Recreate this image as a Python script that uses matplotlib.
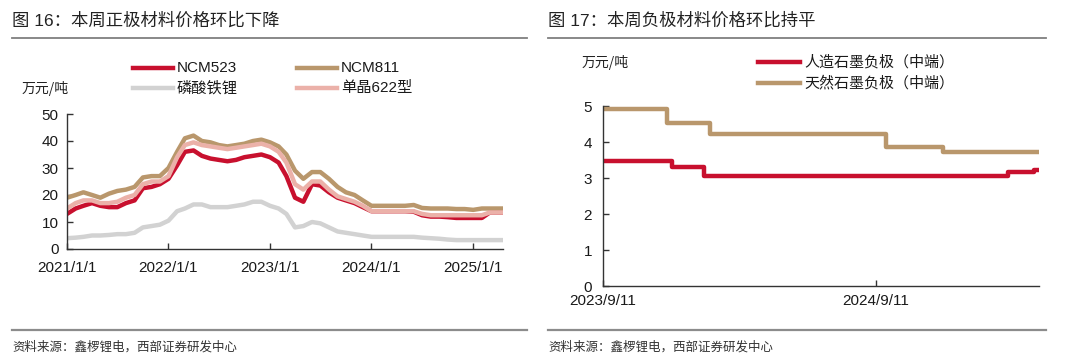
import numpy as np
import pandas as pd
import matplotlib
matplotlib.use('Agg')
from matplotlib import pyplot as plt
from matplotlib.lines import Line2D

plt.rcParams['font.family'] = ['Liberation Sans', 'Noto Sans CJK SC', 'DejaVu Sans']
plt.rcParams['axes.unicode_minus'] = False

# 正极材料价格 (万元/吨), 月度
cathode_dates = list(pd.date_range('2021-01-01', periods=52, freq='MS')) + [pd.Timestamp('2025-04-18')]
ncm523 = [13, 15, 16, 17, 16, 15.5, 15.5, 17, 18, 22.5, 23, 24,
          26, 31, 36, 36.5, 34.5, 33.5, 33, 32.5, 33, 34, 34.5, 35,
          34, 32, 27, 19, 17.5, 24, 23.5, 21, 19, 18, 17, 15.5,
          14, 14, 14, 14, 14, 13.8, 12.5, 12, 12, 11.8, 11.5, 11.5,
          11.5, 11.5, 13.5, 13.5, 13.5]
ncm811 = [19, 20, 21, 20, 19, 20.5, 21.5, 22, 23, 26.5, 27, 27,
          30, 36, 41, 42, 40, 39.5, 38.5, 38, 38.5, 39, 40, 40.5,
          39.5, 38, 35, 29, 26, 28.5, 28.5, 26, 23, 21, 20, 18,
          16, 16, 16, 16, 16, 16.3, 15.2, 15, 15, 15, 14.8, 14.8,
          14.5, 15, 15, 15, 15]
lfp = [4, 4.2, 4.5, 5, 5, 5.2, 5.5, 5.5, 6, 8, 8.5, 9,
       10.5, 14, 15, 16.5, 16.5, 15.5, 15.5, 15.5, 16, 16.5, 17.5, 17.5,
       16, 15, 13, 8, 8.5, 10, 9.5, 8, 6.5, 6, 5.5, 5,
       4.5, 4.5, 4.5, 4.5, 4.5, 4.5, 4.2, 4, 3.8, 3.5, 3.3, 3.3,
       3.3, 3.3, 3.3, 3.3, 3.3]
sc622 = [15, 17, 18, 18, 17, 17, 17.5, 19, 20, 24, 25, 25,
         27, 34, 38.5, 39.5, 38.5, 38, 37.5, 37, 37.5, 38, 38.5, 39,
         38, 36, 32, 24, 22, 25, 25, 22, 19.5, 18.5, 17.5, 16,
         14, 14, 14, 14, 14, 14, 13, 12.5, 12.5, 12.5, 12.5, 12.5,
         12.5, 12.5, 13.5, 13.5, 13.5]
cathode_ticks = ['2021-01-01', '2022-01-01', '2023-01-01', '2024-01-01', '2025-01-01']
cathode_ticklabels = ['2021/1/1', '2022/1/1', '2023/1/1', '2024/1/1', '2025/1/1']

# 负极材料价格 (万元/吨), 调价日期
art_dates = ['2023-09-11', '2023-12-12', '2024-01-24', '2025-03-07', '2025-04-11', '2025-04-18']
art_vals = [3.47, 3.30, 3.05, 3.16, 3.22, 3.22]
nat_dates = ['2023-09-11', '2023-12-06', '2024-02-01', '2024-09-25', '2024-12-10', '2025-04-18']
nat_vals = [4.92, 4.53, 4.23, 3.87, 3.71, 3.71]
anode_ticks = ['2023-09-11', '2024-09-11']
anode_ticklabels = ['2023/9/11', '2024/9/11']

RED = '#C8102E'
TAN = '#B9976C'
GRAY = '#D2D2D2'
PINK = '#EBB1A9'
AXC = '#333333'

fig = plt.figure(figsize=(10.8, 3.61), dpi=100)


def fx(px):
    return px / 1080


def fy(py):
    return 1 - py / 361


def style_axes(ax):
    for s in ['top', 'right']:
        ax.spines[s].set_visible(False)
    for s in ['left', 'bottom']:
        ax.spines[s].set_color(AXC)
        ax.spines[s].set_linewidth(1.0)
    ax.tick_params(direction='in', length=4, width=1.0, color=AXC,
                   labelsize=11, labelcolor='#1a1a1a')


# ---- 图16 正极 ----
ax1 = fig.add_axes([fx(67), fy(249), fx(436), (249 - 114) / 361])
d1 = pd.to_datetime(cathode_dates)
ax1.plot(d1, ncm523, color=RED, lw=3.2, solid_joinstyle='round')
ax1.plot(d1, ncm811, color=TAN, lw=3.2, solid_joinstyle='round')
ax1.plot(d1, lfp, color=GRAY, lw=3.2, solid_joinstyle='round')
ax1.plot(d1, sc622, color=PINK, lw=3.2, solid_joinstyle='round')
ax1.set_ylim(0, 50)
ax1.set_yticks(np.arange(0, 51, 10))
ax1.set_xlim(pd.Timestamp('2021-01-01'), pd.Timestamp('2025-04-18'))
ax1.set_xticks(pd.to_datetime(cathode_ticks))
ax1.set_xticklabels(cathode_ticklabels)
style_axes(ax1)
ax1.tick_params(axis='x', pad=9)
ax1.tick_params(axis='y', pad=6)

# ---- 图17 负极 ----
ax2 = fig.add_axes([fx(603), fy(286), fx(436), (286 - 106) / 361])
ax2.plot(pd.to_datetime(art_dates), art_vals, color=RED, lw=3.2, drawstyle='steps-post')
ax2.plot(pd.to_datetime(nat_dates), nat_vals, color=TAN, lw=3.2, drawstyle='steps-post')
ax2.set_ylim(0, 5)
ax2.set_yticks(np.arange(0, 6, 1))
ax2.set_xlim(pd.Timestamp('2023-09-11'), pd.Timestamp('2025-04-18'))
ax2.set_xticks(pd.to_datetime(anode_ticks))
ax2.set_xticklabels(anode_ticklabels)
style_axes(ax2)
ax2.tick_params(axis='x', pad=6)
ax2.tick_params(axis='y', pad=8)

# ---- 标题、分隔线、来源 ----
cjk = ['Noto Sans CJK SC', 'DejaVu Sans']
fig.text(fx(12), fy(20), '图 16：本周正极材料价格环比下降', fontsize=12.5, color='#222222',
         va='center', ha='left', family=['Liberation Sans', 'Noto Sans CJK SC'])
fig.text(fx(548), fy(20), '图 17：本周负极材料价格环比持平', fontsize=12.5, color='#222222',
         va='center', ha='left', family=['Liberation Sans', 'Noto Sans CJK SC'])
for x0, x1 in [(12, 527), (548, 1046)]:
    fig.add_artist(Line2D([fx(x0), fx(x1)], [fy(38), fy(38)], color='#7f7f7f', lw=1.3))
    fig.add_artist(Line2D([fx(x0), fx(x1)], [fy(330), fy(330)], color='#8c8c8c', lw=1.6))
fig.text(fx(12), fy(347), '资料来源：鑫椤锂电，西部证券研发中心', fontsize=9, color='#333333',
         va='center', ha='left', family=cjk)
fig.text(fx(548), fy(347), '资料来源：鑫椤锂电，西部证券研发中心', fontsize=9, color='#333333',
         va='center', ha='left', family=cjk)

# 单位
fig.text(fx(22), fy(88), '万元/吨', fontsize=10, color='#222222', va='center', ha='left', family=cjk)
fig.text(fx(582), fy(62), '万元/吨', fontsize=10, color='#222222', va='center', ha='left', family=cjk)

# 图例
legend_left = [
    (133, 68, RED, 'NCM523'),
    (297, 68, TAN, 'NCM811'),
    (133, 88, GRAY, '磷酸铁锂'),
    (297, 88, PINK, '单晶622型'),
]
for x, y, c, lab in legend_left:
    fig.add_artist(Line2D([fx(x), fx(x + 40)], [fy(y), fy(y)], color=c, lw=3.2))
    fig.text(fx(x + 44), fy(y), lab, fontsize=11, color='#1a1a1a', va='center', ha='left',
             family=['Liberation Sans', 'Noto Sans CJK SC'])

legend_right = [
    (758, 62, RED, '人造石墨负极（中端）'),
    (758, 83, TAN, '天然石墨负极（中端）'),
]
for x, y, c, lab in legend_right:
    fig.add_artist(Line2D([fx(x), fx(x + 42)], [fy(y), fy(y)], color=c, lw=3.2))
    fig.text(fx(x + 46), fy(y), lab, fontsize=10.8, color='#1a1a1a', va='center', ha='left',
             family=cjk)

plt.savefig('out.png', dpi=100)
